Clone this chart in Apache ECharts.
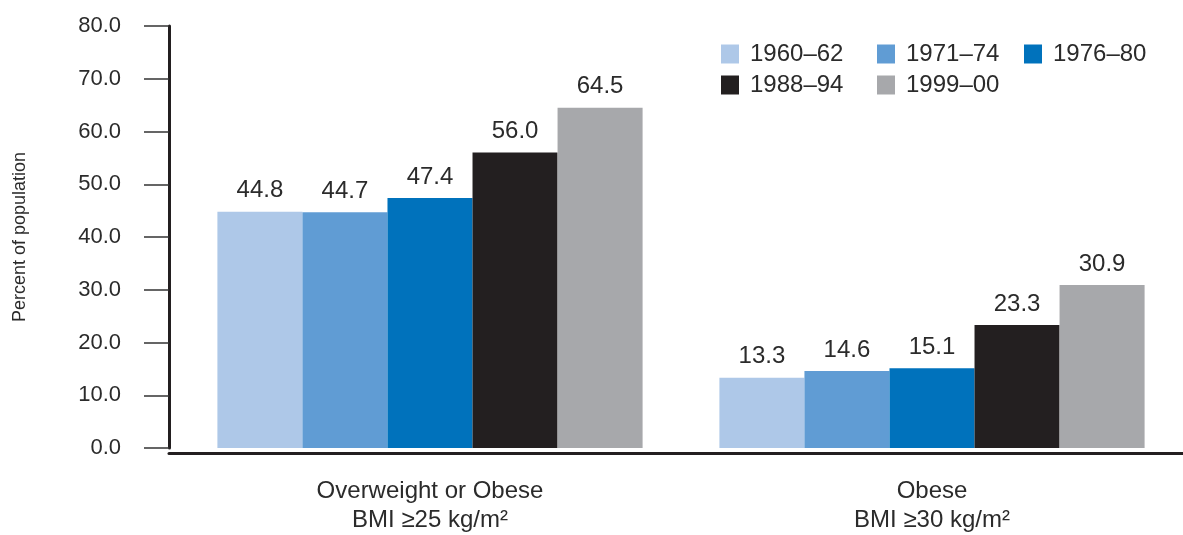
<!DOCTYPE html>
<html>
<head>
<meta charset="utf-8">
<script src="https://cdn.jsdelivr.net/npm/echarts@6/dist/echarts.min.js"></script>
<style>
  html, body { margin: 0; padding: 0; background: #ffffff; }
  #chart { width: 1183px; height: 535px; }
</style>
</head>
<body>
<div id="chart"></div>
<script>
// Prevalence of overweight and obesity among adults, by survey period
const categories = ['Overweight or Obese\nBMI ≥25 kg/m²', 'Obese\nBMI ≥30 kg/m²'];
const periods = ['1960–62', '1971–74', '1976–80', '1988–94', '1999–00'];
const values1960 = [44.8, 13.3];
const values1971 = [44.7, 14.6];
const values1976 = [47.4, 15.1];
const values1988 = [56.0, 23.3];
const values1999 = [64.5, 30.9];
const yTicks = { min: 0, max: 80, interval: 10 };
const yName = 'Percent of population';

const seriesValues = [values1960, values1971, values1976, values1988, values1999];
const colors = ['#aec8e8', '#609cd4', '#0072bc', '#231f20', '#a7a8ab'];
const FONT = "'Liberation Sans', Arial, Helvetica, sans-serif";
const TEXT = '#2b2b2b';

const chart = echarts.init(document.getElementById('chart'), null, { renderer: 'canvas' });

const legendText = {
  color: TEXT, fontFamily: FONT, fontSize: 24, lineHeight: 24, padding: [0, 0, 0, 6]
};
function legendColumn(names, left) {
  return {
    data: names, orient: 'vertical', left: left, top: 37,
    itemWidth: 18, itemHeight: 19, itemGap: 7, icon: 'rect',
    selectedMode: false, textStyle: legendText
  };
}

const option = {
  backgroundColor: '#ffffff',
  animation: false,
  color: colors,
  legend: [
    legendColumn([periods[0], periods[3]], 716),
    legendColumn([periods[1], periods[4]], 872),
    legendColumn([periods[2]], 1019)
  ],
  grid: [
    { left: 179, width: 1009, top: 26, bottom: 82 },
    { left: 169, width: 1014, top: 26, bottom: 82 }
  ],
  xAxis: [
    {
      type: 'category', gridIndex: 0, data: categories,
      axisLine: { show: false }, axisTick: { show: false },
      axisLabel: {
        color: TEXT, fontFamily: FONT, fontSize: 24, lineHeight: 29, margin: 29,
        interval: 0
      }
    },
    {
      type: 'category', gridIndex: 1, data: categories, z: 5,
      axisLine: { show: true, lineStyle: { color: '#231f20', width: 3 } },
      axisTick: { show: false }, axisLabel: { show: false }
    }
  ],
  yAxis: [
    {
      type: 'value', gridIndex: 0, min: yTicks.min, max: yTicks.max, interval: yTicks.interval,
      offset: 10,
      name: yName, nameLocation: 'middle', nameGap: 140, nameRotate: 90,
      nameTextStyle: { color: TEXT, fontFamily: FONT, fontSize: 18, letterSpacing: 3 },
      axisLine: { show: true, lineStyle: { color: '#231f20', width: 3 } },
      axisTick: { show: true, inside: false, length: 25, lineStyle: { color: '#333333', width: 1.5 } },
      axisLabel: {
        color: TEXT, fontFamily: FONT, fontSize: 22, margin: 48,
        formatter: v => v.toFixed(1)
      },
      splitLine: { show: false }
    },
    {
      type: 'value', gridIndex: 1, min: yTicks.min, max: yTicks.max, show: false
    }
  ],
  series: periods.map((p, i) => ({
    name: p,
    type: 'bar',
    xAxisIndex: 0, yAxisIndex: 0,
    data: seriesValues[i],
    barGap: '0%',
    barCategoryGap: '15.3%',
    itemStyle: { color: colors[i] },
    label: {
      show: true, position: 'top', distance: 9,
      color: TEXT, fontFamily: FONT, fontSize: 24,
      formatter: d => d.value.toFixed(1)
    }
  }))
};

chart.setOption(option);
</script>
</body>
</html>
